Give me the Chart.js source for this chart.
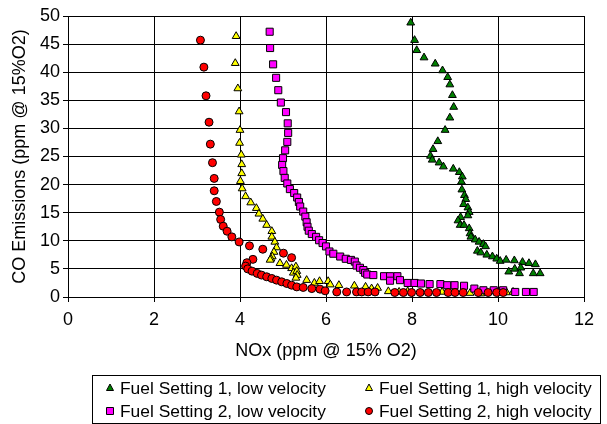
<!DOCTYPE html>
<html>
<head>
<meta charset="utf-8">
<script src="https://cdn.jsdelivr.net/npm/chart.js@4.4.0/dist/chart.umd.min.js"></script>
<style>
    html, body { margin: 0; padding: 0; background: #fff; }
    #wrap { width: 607px; height: 424px; }
</style>
</head>
<body>
<div id="wrap"><canvas id="noxChart" width="607" height="424"></canvas></div>
<script>
// Fuel Setting 1, low velocity
var fs1LowX = [7.97, 8.06, 8.11, 8.28, 8.54, 8.71, 8.83, 8.88, 8.94, 8.97, 8.88, 8.77, 8.60, 8.49, 8.43, 8.47,
    8.63, 8.73, 8.96, 9.10, 9.17, 9.15, 9.16, 9.22, 9.25, 9.20, 9.30, 9.33, 9.30, 9.13, 9.07, 9.12, 9.21, 9.33,
    9.35, 9.37, 9.47, 9.56, 9.66, 9.71, 9.52, 9.60, 9.74, 9.87, 9.97, 10.05, 10.19, 10.38, 10.57, 10.72, 10.87,
    10.25, 10.39, 10.53, 10.50, 10.82, 10.98];
var fs1LowY = [48.8, 45.7, 43.9, 42.6, 41.5, 40.3, 39.1, 37.8, 35.9, 33.8, 31.9, 29.7, 27.7, 26.3, 25.1, 24.4,
    23.9, 23.2, 22.8, 22.2, 21.4, 20.5, 19.1, 18.1, 17.4, 16.5, 15.9, 15.1, 14.5, 14.2, 13.6, 12.8, 12.8, 12.2,
    11.3, 10.7, 10.2, 9.8, 9.4, 9.0, 8.2, 7.9, 7.5, 7.2, 6.8, 6.4, 6.6, 6.5, 6.2, 6.0, 5.8,
    4.5, 5.0, 5.2, 4.2, 4.2, 4.2];

// Fuel Setting 1, high velocity
var fs1HighX = [3.91, 3.89, 3.95, 3.98, 4.00, 3.99, 4.03, 4.04, 4.04, 4.01, 4.05, 4.13, 4.25, 4.38, 4.44, 4.53,
    4.62, 4.74, 4.74, 4.81, 4.85, 4.79, 4.75, 4.72, 4.70, 4.93, 5.08, 5.20, 5.30, 5.24, 5.32, 5.33, 5.30, 5.55,
    5.73, 5.85, 6.05, 6.10, 6.30, 6.66, 6.92, 7.06, 7.20, 7.45, 7.70, 7.90, 8.70, 9.35, 9.60, 10.20, 10.35];
var fs1HighY = [46.4, 41.6, 37.1, 33.0, 29.7, 27.4, 25.3, 23.6, 22.0, 20.6, 19.3, 17.9, 16.8, 15.8, 14.8, 13.9,
    12.8, 11.7, 10.7, 9.8, 8.8, 8.0, 7.2, 6.8, 6.6, 6.0, 5.7, 5.1, 5.4, 4.3, 4.6, 3.9, 3.4, 3.0,
    2.5, 2.8, 2.8, 2.2, 2.1, 2.0, 1.8, 1.5, 1.6, 1.0, 0.9, 1.0, 0.9, 0.7, 0.6, 0.8, 0.9];

// Fuel Setting 2, low velocity
var fs2LowX = [4.69, 4.70, 4.77, 4.84, 4.89, 4.95, 5.07, 5.11, 5.12, 5.10, 5.05, 5.00, 4.98, 5.01, 5.04, 5.10,
    5.16, 5.26, 5.33, 5.37, 5.40, 5.47, 5.52, 5.55, 5.57, 5.60, 5.67, 5.77, 5.84, 5.92, 6.00, 6.08, 6.17, 6.33,
    6.46, 6.58, 6.67, 6.71, 6.79, 6.87, 6.91, 6.96, 7.10, 7.35, 7.49, 7.66, 7.49, 7.72, 7.90, 8.06, 8.21, 8.41,
    8.66, 8.82, 8.99, 9.21, 9.45, 9.66, 9.90, 10.12, 10.40, 10.65, 10.83];
var fs2LowY = [47.2, 44.3, 41.4, 39.0, 36.8, 34.6, 32.9, 30.9, 29.2, 27.6, 26.1, 24.7, 23.5, 22.4, 21.2, 20.2,
    19.2, 18.5, 17.7, 16.9, 16.1, 15.2, 14.3, 13.3, 12.5, 11.8, 11.2, 10.7, 10.1, 9.6, 9.0, 8.1, 7.7, 7.2,
    6.8, 6.6, 6.3, 5.6, 5.2, 4.8, 4.3, 4.0, 3.9, 3.7, 3.7, 3.7, 2.9, 3.0, 2.5, 2.5, 2.4, 2.3,
    2.3, 2.1, 2.1, 2.0, 1.5, 1.2, 1.2, 1.2, 0.9, 0.9, 0.9];

// Fuel Setting 2, high velocity
var fs2HighX = [3.08, 3.16, 3.21, 3.28, 3.31, 3.36, 3.40, 3.40, 3.45, 3.52, 3.55, 3.61, 3.70, 3.81, 3.98, 4.22,
    4.53, 5.01, 5.20, 4.30, 4.16, 4.13, 4.18, 4.28, 4.40, 4.50, 4.62, 4.74, 4.85, 4.97, 5.09, 5.20, 5.32, 5.47,
    5.67, 5.86, 5.98, 6.25, 6.48, 6.71, 6.83, 6.98, 7.14, 7.60, 7.80, 7.99, 8.19, 8.38, 8.57, 8.84, 9.00, 9.19,
    9.54, 9.77, 9.97, 10.12];
var fs2HighY = [45.7, 40.9, 35.8, 31.1, 27.2, 23.9, 21.1, 18.9, 17.0, 15.1, 13.8, 12.6, 11.7, 10.7, 9.8, 9.1,
    8.5, 7.8, 7.0, 6.7, 6.1, 5.5, 5.0, 4.6, 4.2, 3.9, 3.6, 3.3, 3.0, 2.7, 2.4, 2.1, 1.8, 1.7,
    1.5, 1.4, 1.1, 0.9, 0.9, 0.9, 0.9, 0.9, 0.9, 0.8, 0.8, 0.8, 0.8, 0.8, 0.8, 0.8, 0.8, 0.8,
    0.8, 0.8, 0.8, 0.8];

var seriesLabels = ['Fuel Setting 1, low velocity', 'Fuel Setting 1, high velocity',
    'Fuel Setting 2, low velocity', 'Fuel Setting 2, high velocity'];
var xTicks = [0, 2, 4, 6, 8, 10, 12];

var FONT = '"Liberation Sans", Arial, sans-serif';
var FSIZE = 18;

function toPoints(xs, ys) {
    var pts = [];
    for (var i = 0; i < xs.length; i++) {
        pts.push({x: xs[i], y: ys[i]});
    }
    return pts;
}

function series(label, xs, ys, color, style, radius, order) {
    return {
        label: label,
        data: toPoints(xs, ys),
        showLine: false,
        pointStyle: style,
        pointRadius: radius,
        pointHoverRadius: radius,
        pointBackgroundColor: color,
        pointBorderColor: '#000',
        pointBorderWidth: 1,
        backgroundColor: color,
        borderColor: '#000',
        order: order
    };
}

// small marker for the boxed legend
function marker(ctx, style, x, y, color) {
    ctx.beginPath();
    ctx.fillStyle = color;
    if (style == 'triangle') {
        ctx.moveTo(x, y - 4);
        ctx.lineTo(x + 3.5, y + 2.5);
        ctx.lineTo(x - 3.5, y + 2.5);
        ctx.closePath();
    } else if (style == 'rect') {
        ctx.rect(x - 3.5, y - 3.5, 7, 7);
    } else {
        ctx.arc(x, y, 3.5, 0, 2 * Math.PI, false);
    }
    ctx.fill();
    ctx.stroke();
}

var boxLegend = {
    id: 'boxLegend',
    afterDraw: function(chart) {
        var ctx = chart.ctx;
        ctx.save();
        ctx.strokeStyle = '#000';
        ctx.lineWidth = 1;
        ctx.strokeRect(92.5, 375.5, 508, 48);
        ctx.font = '17.4px ' + FONT;
        ctx.textBaseline = 'middle';
        ctx.textAlign = 'left';
        var ds = chart.data.datasets;
        for (var i = 0; i < ds.length; i++) {
            var mx = (i % 2) ? 369 : 110;
            var my = (i < 2) ? 388 : 411;
            marker(ctx, ds[i].pointStyle, mx, my, ds[i].pointBackgroundColor);
            ctx.fillStyle = '#000';
            ctx.fillText(ds[i].label, mx + 10, my + 1);
        }
        ctx.restore();
    }
};

var chart = new Chart(document.getElementById('noxChart'), {
    type: 'scatter',
    data: {
        datasets: [
            series(seriesLabels[0], fs1LowX, fs1LowY, '#008000', 'triangle', 4.5, 4),
            series(seriesLabels[1], fs1HighX, fs1HighY, '#FFFF00', 'triangle', 4.5, 3),
            series(seriesLabels[2], fs2LowX, fs2LowY, '#FF00FF', 'rect', 5, 2),
            series(seriesLabels[3], fs2HighX, fs2HighY, '#FF0000', 'circle', 4, 1)
        ]
    },
    options: {
        responsive: false,
        animation: false,
        events: [],
        layout: {padding: {left: 0, top: 16, right: 23, bottom: 62}},
        plugins: {
            legend: {display: false},
            tooltip: {enabled: false}
        },
        scales: {
            x: {
                type: 'linear',
                min: 0,
                max: 12,
                afterBuildTicks: function(scale) {
                    scale.ticks = xTicks.map(function(v) { return {value: v}; });
                },
                afterFit: function(scale) { scale.height = 65; },
                ticks: {color: '#000', font: {family: FONT, size: FSIZE}, padding: 7, maxRotation: 0},
                grid: {color: '#000', tickColor: '#000', tickLength: 5},
                border: {color: '#000'},
                title: {display: true, text: 'NOx (ppm @ 15% O2)', color: '#000',
                    font: {family: FONT, size: FSIZE}, padding: {top: 0, bottom: 0}}
            },
            y: {
                min: 0,
                max: 50,
                afterFit: function(scale) { scale.width = 68; },
                ticks: {stepSize: 5, color: '#000', font: {family: FONT, size: FSIZE}, padding: 3},
                grid: {color: '#000', tickColor: '#000', tickLength: 5},
                border: {color: '#000'},
                title: {display: true, text: 'CO Emissions (ppm @ 15%O2)', color: '#000',
                    font: {family: FONT, size: FSIZE}, padding: {top: 9, bottom: 0}}
            }
        }
    },
    plugins: [boxLegend]
});
</script>
</body>
</html>
